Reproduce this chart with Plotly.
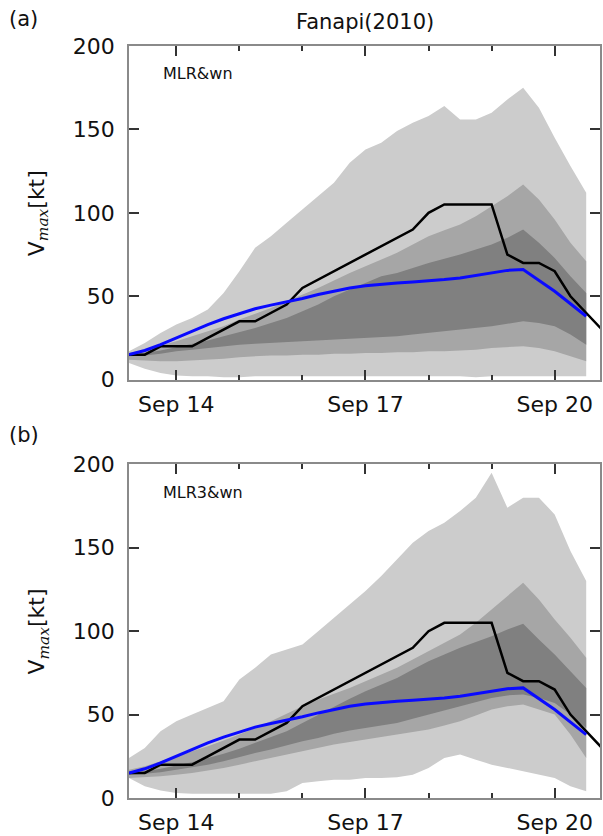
import pandas as pd
import plotly.graph_objects as go
from plotly.subplots import make_subplots

# ---------------- data (6-hourly, from 2010-09-13 06:00) ----------------
times = pd.date_range("2010-09-13 06:00", periods=30, freq="6h")
obs_times = pd.date_range("2010-09-13 06:00", periods=31, freq="6h")

# observed (best track) Vmax [kt]
observed = [15, 15, 20, 20, 20, 25, 30, 35, 35, 40, 45, 55, 60, 65, 70, 75,
            80, 85, 90, 100, 105, 105, 105, 105, 75, 70, 70, 65, 50, 40, 30]

# ensemble mean (blue) - same in both panels
mean_a = [15, 17.5, 21, 25, 29, 33, 36.5, 39.5, 42.5, 44.7, 46.5, 48.7, 51, 53, 55,
          56.3, 57.3, 58, 58.6, 59.2, 60, 61, 62.5, 64, 65.5, 66, 59.5, 53, 45.5, 38]
mean_b = list(mean_a)

# panel (a) MLR&wn envelopes
a_light_hi = [17, 22, 28, 33, 37, 42, 52, 65, 79, 86, 94, 102, 110, 118, 130,
              138, 142, 149, 154, 158, 164, 156, 156, 160, 168, 175, 163, 145, 128, 112]
a_light_lo = [10, 6.5, 4, 2.5, 2, 2, 1.5, 1.5, 2, 2, 2, 2, 2, 2, 2,
              2, 2, 2, 2, 2, 2, 2, 1.5, 2, 2, 2, 2, 2, 2, 2]
a_mid_hi = [16, 18, 20.5, 23, 26, 29, 32, 36, 39.5, 43, 47, 51, 55, 59.5, 64,
            68, 72, 76, 81, 86, 89.5, 93, 98, 104, 110, 117, 108, 96, 82, 71]
a_mid_lo = [12, 11.5, 11, 11, 11.5, 12, 12.5, 13.5, 14, 14.5, 14.5, 15, 15, 15.5, 15.5,
            16, 16, 16.5, 16.5, 17, 17, 17.5, 18, 19, 19.5, 20, 19, 17, 14, 11]
a_dark_hi = [15, 16, 17.5, 19.5, 21.5, 23.5, 26, 28.5, 31, 34, 37, 41, 45, 50, 54,
             58, 62, 64, 67, 70, 72.5, 75, 78, 81, 85, 90, 82, 73, 62, 52]
a_dark_lo = [14, 14.5, 15.5, 17, 18, 19, 20, 21, 21.5, 22, 22.5, 23, 23.5, 24, 24.5,
             25, 25.5, 26, 27, 28, 29, 30, 31, 32, 33.5, 35, 34, 32, 27, 21]

# panel (b) MLR3&wn envelopes
b_light_hi = [24, 30, 40, 46, 50, 54, 58, 71, 78, 86, 89, 92, 100, 108, 116,
              124, 133, 143, 153, 160, 165, 172, 180, 195, 174, 180, 180, 170, 148, 130]
b_light_lo = [12, 7, 4.5, 3, 2.5, 2.5, 2.5, 2.5, 2.5, 2.5, 4, 9, 10, 11, 11,
              12, 12, 12.5, 14, 18, 24, 26, 23, 20, 18, 16, 14, 12, 7, 4]
b_mid_hi = [17, 19, 22, 25, 28, 31, 34.5, 38, 42, 46, 50.5, 55, 59, 62.5, 66,
            70, 74, 78, 83, 88, 93, 98, 105, 113, 121, 129, 119, 107, 96, 84]
b_mid_lo = [12, 12.5, 13, 14, 15, 16.5, 18, 20, 22, 24, 26, 28, 30, 32, 33.5,
            35, 36.5, 38, 39.5, 41, 43.5, 46, 49.5, 53, 55, 56, 53, 50, 38, 24]
b_dark_hi = [15, 16, 17.5, 19.5, 21.5, 24, 26.5, 29.5, 33, 36.5, 40, 45, 50, 55, 59.5,
             64, 68, 72, 77, 82, 86, 90, 93.5, 97, 101, 104.5, 95, 86, 76, 66]
b_dark_lo = [14, 14.5, 15.5, 17, 18.5, 20, 22, 24.5, 27, 29, 31.5, 34, 36, 38.5, 40.5,
             42, 43.5, 45, 47.5, 50, 52.5, 55, 57.5, 60, 61.5, 62, 60, 57, 50, 42]

panel_labels = ["(a)", "(b)"]
model_labels = ["MLR&wn", "MLR3&wn"]
title_text = "Fanapi(2010)"
ytick_vals = [0, 50, 100, 150, 200]
xtick_vals = ["2010-09-14", "2010-09-17", "2010-09-20"]
xtick_text = ["Sep 14", "Sep 17", "Sep 20"]

# ---------------- styling ----------------
LIGHT = "rgb(204,204,204)"
MID = "rgb(166,166,166)"
DARK = "rgb(128,128,128)"
FONT = "DejaVu Sans"
W, H = 603, 836
L, R, T, B = 129, 1, 46, 35
PW, PH = W - L - R, H - T - B

def py(pix):  # pixel y from top -> paper
    return (H - B - pix) / PH

def px(pix):
    return (pix - L) / PW

gap = (466 - 381) / PH
fig = make_subplots(rows=2, cols=1, vertical_spacing=gap)

panels = [
    (a_light_lo, a_light_hi, a_mid_lo, a_mid_hi, a_dark_lo, a_dark_hi, mean_a),
    (b_light_lo, b_light_hi, b_mid_lo, b_mid_hi, b_dark_lo, b_dark_hi, mean_b),
]

for i, (llo, lhi, mlo, mhi, dlo, dhi, mean) in enumerate(panels, start=1):
    for lo, hi, col in [(llo, lhi, LIGHT), (mlo, mhi, MID), (dlo, dhi, DARK)]:
        fig.add_trace(go.Scatter(x=times, y=lo, mode="lines", line=dict(width=0, color=col),
                                 showlegend=False, hoverinfo="skip"), row=i, col=1)
        fig.add_trace(go.Scatter(x=times, y=hi, mode="lines", fill="tonexty", fillcolor=col,
                                 line=dict(width=0, color=col),
                                 showlegend=False, hoverinfo="skip"), row=i, col=1)
    fig.add_trace(go.Scatter(x=obs_times, y=observed, mode="lines",
                             line=dict(color="black", width=2.5), showlegend=False), row=i, col=1)
    fig.add_trace(go.Scatter(x=times, y=mean, mode="lines",
                             line=dict(color="rgb(10,10,255)", width=3), showlegend=False), row=i, col=1)

axis_line = "#8a8a8a"
for i in (1, 2):
    fig.update_xaxes(row=i, col=1, type="date",
                     range=["2010-09-13 06:00", "2010-09-20 17:15"],
                     tickmode="array", tickvals=xtick_vals, ticktext=xtick_text,
                     ticks="inside", ticklen=10, tickwidth=1.5, tickcolor="#333",
                     minor=dict(ticks="inside", ticklen=5, tickwidth=1.5, tickcolor="#333",
                                dtick=86400000, tick0="2010-09-13"),
                     showline=True, linecolor=axis_line, linewidth=1.5, mirror="ticks",
                     showgrid=False, zeroline=False,
                     tickfont=dict(family=FONT, size=22, color="#111"),
                     ticklabelstandoff=4)
    fig.update_yaxes(row=i, col=1, range=[0, 200], tickmode="array", tickvals=ytick_vals,
                     ticks="inside", ticklen=10, tickwidth=1.5, tickcolor="#333",
                     showline=True, linecolor=axis_line, linewidth=1.5, mirror="ticks",
                     showgrid=False, zeroline=False,
                     tickfont=dict(family=FONT, size=22, color="#111"),
                     ticklabelstandoff=8)

ann = []
ann.append(dict(text=title_text, x=0.5, y=py(22), xref="paper", yref="paper",
                showarrow=False, font=dict(family=FONT, size=21, color="#111"),
                xanchor="center", yanchor="middle"))
for lab, yc in zip(panel_labels, [19, 437]):
    ann.append(dict(text=lab, x=px(6), y=py(yc), xref="paper", yref="paper",
                    showarrow=False, font=dict(family=FONT, size=21, color="#111"),
                    xanchor="left", yanchor="middle"))
for lab, yc in zip(model_labels, [74, 494]):
    ann.append(dict(text=lab, x=px(161), y=py(yc), xref="paper", yref="paper",
                    showarrow=False, font=dict(family=FONT, size=16, color="#111"),
                    xanchor="left", yanchor="middle"))
ytitle = ("V<sub><span style=\"font-family:'DejaVu Serif'\"><i>max</i></span></sub>[kt]")
for yc in [213.5, 633.5]:
    ann.append(dict(text=ytitle, x=px(38), y=py(yc),
                    xref="paper", yref="paper", textangle=-90, showarrow=False,
                    font=dict(family=FONT, size=22, color="#111"),
                    xanchor="center", yanchor="middle"))

fig.update_layout(width=W, height=H, margin=dict(l=L, r=R, t=T, b=B),
                  plot_bgcolor="white", paper_bgcolor="white",
                  annotations=ann, showlegend=False)

fig.write_html("out.html")
